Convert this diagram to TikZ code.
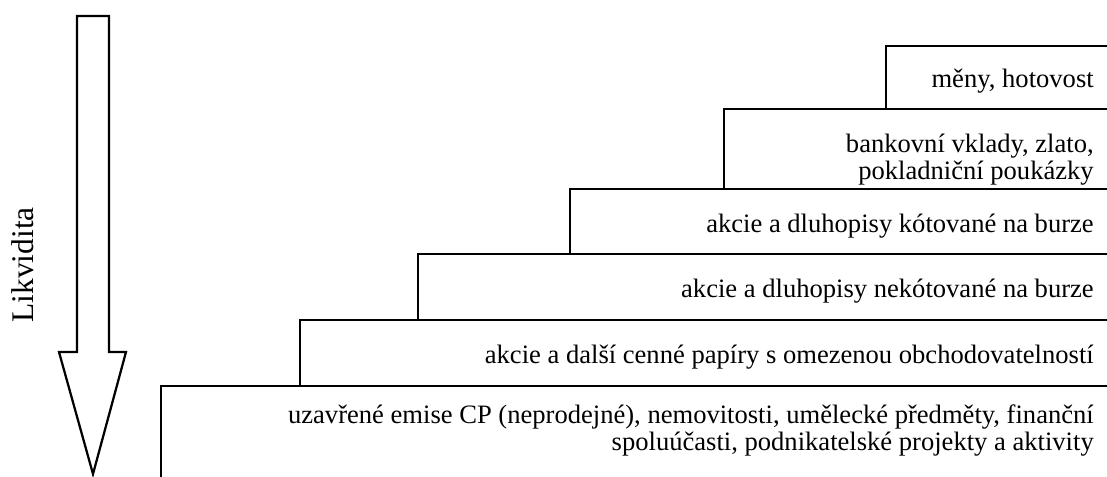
\documentclass[tikz,border=0pt]{standalone}
\usepackage{fontspec}
\setmainfont{Liberation Serif}
\usetikzlibrary{positioning}

\begin{document}
\begin{tikzpicture}[
        x=0.025cm, y=-0.025cm,
        stepbox/.style={draw, line width=0.8pt},
        lbl/.style={anchor=base east, inner sep=0pt, align=right,
                    font=\fontsize{18.9}{18.5}\selectfont},
        bigarrow/.style={draw, line width=1.6pt, line join=miter}
      ]
        \clip (0,0) rectangle (1107,476);
        % steps, from the most liquid down
        \draw[stepbox] (886,46) rectangle (1130,109);
        \draw[stepbox] (724,109) rectangle (1130,189);
        \draw[stepbox] (570,189) rectangle (1130,254);
        \draw[stepbox] (418,254) rectangle (1130,320);
        \draw[stepbox] (300,320) rectangle (1130,386);
        \draw[stepbox] (161,386) rectangle (1130,500);
        % labels (two-line ones sit on their last baseline)
        \node[lbl] (lvl1) at (1094,87) {měny, hotovost};
        \node[lbl] (lvl2) at (1094,179) {bankovní vklady, zlato,\\ pokladniční poukázky};
        \node[lbl] (lvl3) at (1094,232) {akcie a dluhopisy kótované na burze};
        \node[lbl] (lvl4) at (1094,297) {akcie a dluhopisy nekótované na burze};
        \node[lbl] (lvl5) at (1094,363) {akcie a další cenné papíry s omezenou obchodovatelností};
        \node[lbl] (lvl6) at (1094,450) {uzavřené emise CP (neprodejné), nemovitosti, umělecké předměty, finanční\\ spoluúčasti, podnikatelské projekty a aktivity};
        % liquidity arrow
        \draw[bigarrow] (77,16) -- (109,16) -- (109,352) -- (126,352) -- (93,474)
          -- (59,352) -- (77,352) -- cycle;
        \node[rotate=90, anchor=base, inner sep=0pt, font=\fontsize{22.4}{26}\selectfont] (liq) at (33,265) {Likvidita};
      \end{tikzpicture}
\end{document}
